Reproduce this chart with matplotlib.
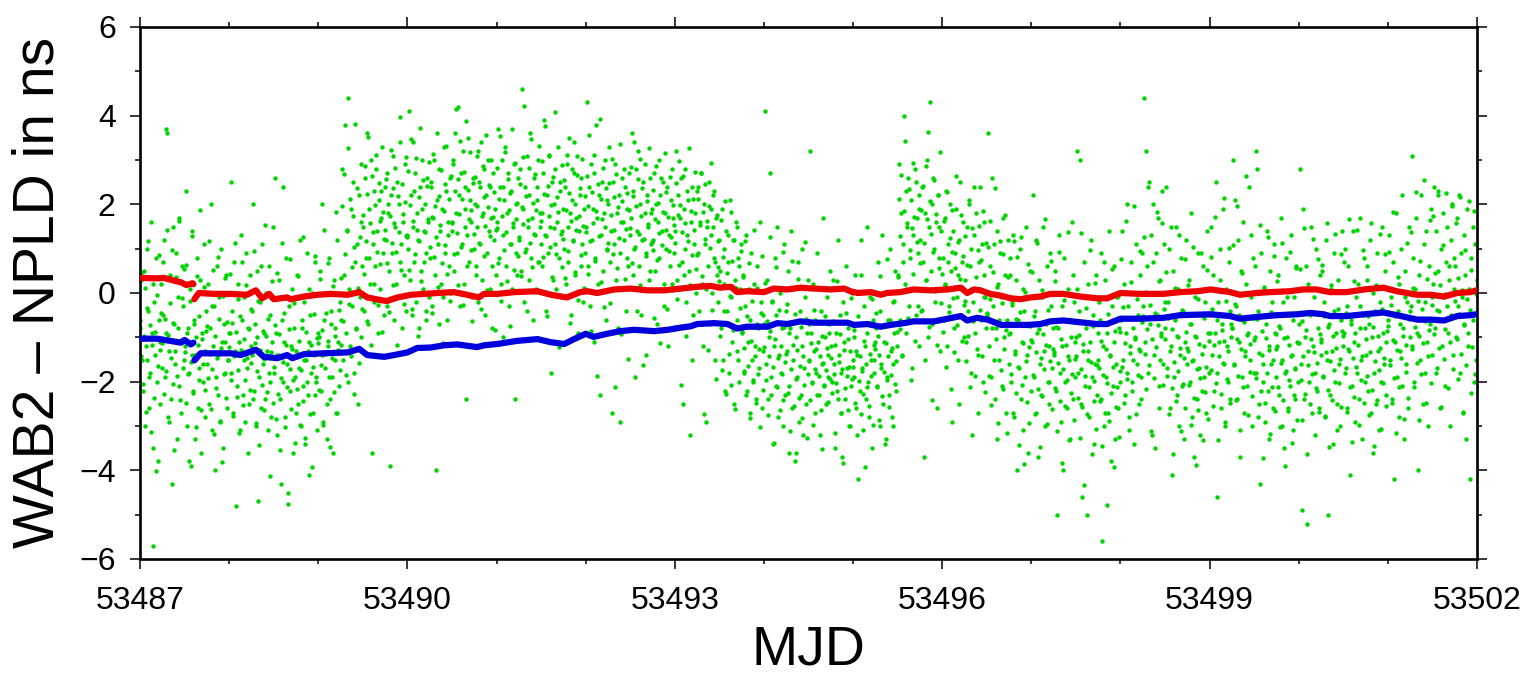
import numpy as np
import matplotlib
matplotlib.use("Agg")
import matplotlib.pyplot as plt
from matplotlib.ticker import MultipleLocator

plt.rcParams['font.family'] = ['Liberation Sans', 'DejaVu Sans']

# ---------------- data ----------------
X_MIN, X_MAX = 53487, 53502
Y_MIN, Y_MAX = -6, 6
x_major = [53487, 53490, 53493, 53496, 53499, 53502]
y_major = [-6, -4, -2, 0, 2, 4, 6]

# Red curve (two segments), MJD and ns
red1_t = [53487.01, 53487.19, 53487.27, 53487.38, 53487.46, 53487.52, 53487.59, 53487.60]
red1_v = [0.34, 0.33, 0.34, 0.28, 0.24, 0.18, 0.22, 0.20]
red2_t = [53487.61, 53487.66, 53487.83, 53488.02, 53488.20, 53488.30, 53488.37, 53488.45,
          53488.50, 53488.65, 53488.69, 53488.84, 53488.99, 53489.14, 53489.33, 53489.46,
          53489.55, 53489.70, 53489.77, 53489.89, 53490.04, 53490.19, 53490.34, 53490.52,
          53490.67, 53490.80, 53490.86, 53491.01, 53491.20, 53491.46, 53491.61, 53491.79,
          53491.94, 53492.02, 53492.13, 53492.32, 53492.50, 53492.69, 53492.88, 53493.07,
          53493.25, 53493.40, 53493.51, 53493.63, 53493.70, 53493.81, 53494.00, 53494.11,
          53494.26, 53494.41, 53494.56, 53494.75, 53494.90, 53494.97, 53495.05, 53495.20,
          53495.31, 53495.38, 53495.53, 53495.68, 53495.87, 53496.06, 53496.21, 53496.28,
          53496.36, 53496.43, 53496.54, 53496.66, 53496.77, 53496.88, 53496.99, 53497.10,
          53497.21, 53497.36, 53497.55, 53497.74, 53497.85, 53498.00, 53498.22, 53498.48,
          53498.67, 53498.86, 53499.01, 53499.23, 53499.34, 53499.53, 53499.68, 53499.90,
          53500.05, 53500.20, 53500.35, 53500.54, 53500.73, 53500.95, 53501.10, 53501.33,
          53501.48, 53501.63, 53501.78, 53501.93, 53501.99]
red2_v = [-0.14, 0.00, -0.02, -0.02, -0.04, 0.06, -0.12, -0.02,
          -0.14, -0.10, -0.14, -0.08, -0.04, -0.02, -0.04, 0.02,
          -0.10, -0.16, -0.18, -0.10, -0.04, -0.02, 0.00, 0.02,
          -0.04, -0.10, -0.02, -0.02, 0.02, 0.04, -0.04, -0.10,
          0.02, 0.04, 0.00, 0.08, 0.10, 0.06, 0.06, 0.10,
          0.14, 0.16, 0.12, 0.14, 0.02, 0.04, 0.02, 0.10,
          0.08, 0.12, 0.10, 0.08, 0.10, 0.04, 0.00, 0.02,
          -0.04, 0.00, 0.02, 0.08, 0.06, 0.08, 0.12, 0.00,
          0.08, 0.06, -0.02, -0.06, -0.12, -0.14, -0.10, -0.08,
          -0.02, -0.02, -0.08, -0.12, -0.12, 0.00, -0.02, -0.02,
          0.02, 0.04, 0.08, 0.02, -0.04, 0.00, 0.02, 0.04,
          0.08, 0.08, 0.02, 0.02, 0.08, 0.12, 0.04, -0.04,
          -0.04, -0.08, 0.00, 0.02, 0.06]

# Blue curve (two segments)
blue1_t = [53487.01, 53487.19, 53487.34, 53487.46, 53487.50, 53487.57, 53487.60]
blue1_v = [-1.03, -1.03, -1.08, -1.12, -1.06, -1.16, -1.12]
blue2_t = [53487.61, 53487.68, 53488.02, 53488.13, 53488.30, 53488.39, 53488.54, 53488.65,
           53488.71, 53488.84, 53489.06, 53489.33, 53489.46, 53489.55, 53489.74, 53489.85,
           53490.00, 53490.11, 53490.26, 53490.41, 53490.56, 53490.78, 53490.86, 53491.01,
           53491.23, 53491.46, 53491.61, 53491.76, 53491.87, 53492.00, 53492.09, 53492.24,
           53492.39, 53492.54, 53492.77, 53492.92, 53493.07, 53493.18, 53493.25, 53493.44,
           53493.59, 53493.70, 53493.81, 53494.04, 53494.15, 53494.26, 53494.41, 53494.56,
           53494.79, 53494.94, 53495.01, 53495.16, 53495.31, 53495.42, 53495.57, 53495.68,
           53495.91, 53496.06, 53496.21, 53496.28, 53496.39, 53496.51, 53496.66, 53496.81,
           53496.96, 53497.10, 53497.21, 53497.36, 53497.55, 53497.74, 53497.85, 53498.00,
           53498.22, 53498.48, 53498.67, 53499.01, 53499.23, 53499.34, 53499.53, 53499.76,
           53499.98, 53500.13, 53500.28, 53500.35, 53500.54, 53500.73, 53500.95, 53501.10,
           53501.33, 53501.48, 53501.63, 53501.78, 53501.93, 53501.99]
blue2_v = [-1.52, -1.36, -1.36, -1.40, -1.28, -1.44, -1.47, -1.40,
           -1.47, -1.38, -1.36, -1.34, -1.26, -1.40, -1.44, -1.40,
           -1.34, -1.24, -1.23, -1.18, -1.16, -1.22, -1.18, -1.15,
           -1.08, -1.04, -1.11, -1.15, -1.04, -0.92, -0.99, -0.92,
           -0.86, -0.83, -0.86, -0.83, -0.78, -0.75, -0.70, -0.68,
           -0.70, -0.80, -0.76, -0.76, -0.68, -0.70, -0.64, -0.67,
           -0.67, -0.67, -0.72, -0.70, -0.76, -0.72, -0.68, -0.64,
           -0.64, -0.58, -0.52, -0.62, -0.56, -0.60, -0.72, -0.72,
           -0.72, -0.70, -0.64, -0.62, -0.66, -0.70, -0.70, -0.58,
           -0.58, -0.56, -0.50, -0.48, -0.52, -0.58, -0.54, -0.50,
           -0.48, -0.45, -0.48, -0.52, -0.52, -0.48, -0.44, -0.50,
           -0.60, -0.60, -0.62, -0.52, -0.50, -0.48]

# Green raw points, set A: per day, 96 samples (15 min), values in tenths of ns
g53487 = [-8, 3, -15, -22, 5, -30, -12, 10, -4, -26, -18, 16, -9, -35, -57, -2, -14, 8, -20, -38, -6, -11, 2, -17,
          -5, 12, -19, 37, -9, 36, -28, -13, 4, -24, -43, 15, -7, -16, 9, -33, -1, -21, 17, -11, -27, 6, -3, -15,
          -12, 23, -30, -8, -18, 1, -39, -14, 14, -22, -6, -33, -10, 8, -26, -17, 3, -36, -9, -20, 11, -13, -28, -4,
          -16, 2, -25, -8, 20, -31, -12, -3, -40, -19, 6, -14, -23, -1, -29, 10, -11, -35, -7, -18, 4, -26, -15, -9]
g53488 = [-9, 25, -18, -4, -27, 7, -13, -48, -21, 2, -11, -31, 13, -6, -23, -15, -1, -29, 9, -17, -8, -25, 4, -12,
          -14, 20, -22, -7, -30, -10, 5, -47, -19, -2, -26, 11, -16, -9, -24, 0, -13, -31, 6, -20, -5, -28, -11, 15,
          -18, 26, -9, -32, -14, 3, -24, -43, -6, 24, -20, -11, -28, 8, -16, -45, -3, -22, -12, 1, -36, -8, -19, -27,
          -13, 4, -25, -17, 12, -30, -8, -21, -2, -34, -15, 9, -23, -11, -41, -5, -18, 0, -27, -14, 7, -20, -31, -9]
g53489 = [-10, 5, -22, -14, 20, -29, -6, -17, 0, -33, -12, 8, -24, -4, -19, -36, 3, -15, -8, -27, 12, -11, -21, -2,
          -6, 28, -15, 4, 38, -9, 14, -20, 44, 1, -12, 19, -3, 25, -18, 7, -8, 11, -25, 22, -1, 16, -10, 6,
          15, -4, 26, 8, 36, -7, 19, 2, 30, -36, 11, 23, -2, 6, 28, 14, -9, 21, 1, 17, 33, 9, -5, 24,
          12, 27, -3, 18, 5, -39, 22, 9, 31, -6, 15, 2, 25, -1, 20, 7, 34, 11, -8, 16, 4, 29, -4, 13]
g53490 = [10, 41, 3, 22, -5, 34, 15, 7, 27, -2, 18, 12, -8, 24, 5, 30, 1, 14, 20, -4, 9, 26, 16, -1,
          8, 25, -3, 17, 30, 4, -40, 21, 11, -7, 28, 14, 2, 19, -1, 33, 9, 23, -6, 13, 6, 26, 0, 16,
          14, 29, 5, 36, 18, 9, 42, 22, -3, 27, 11, 32, 2, 19, 24, -24, 13, 35, 7, 21, 16, -1, 26, 10,
          20, 6, 31, 15, -2, 25, 11, 34, 3, 18, 28, -5, 22, 9, 30, 14, 1, 24, 17, -8, 27, 12, 19, 4]
g53491 = [16, 37, 8, 24, 2, 30, 13, -10, 21, 33, 6, 18, 27, -3, 11, 23, 1, 15, 29, -24, 9, 20, 4, 26,
          12, 28, 5, 46, 19, -2, 24, 10, 31, 15, 3, 22, 36, 8, 17, -6, 26, 13, 1, 21, 30, 7, 18, 11,
          18, 6, 27, 39, 13, -4, 22, 9, 31, 15, -18, 25, 3, 20, 11, 28, 1, 16, 33, 8, 23, -1, 14, 19,
          10, 24, 2, 29, 15, 7, 35, 18, -5, 21, 12, 27, 4, 17, 31, -9, 14, 22, 6, 26, 11, -2, 19, 9]
g53492 = [15, 43, 6, 24, -3, 29, 12, 19, -11, 27, 8, 38, 17, 2, 22, -23, 13, 25, 5, 18, 30, -6, 10, 21,
          20, 33, 7, 14, -27, 25, 11, 29, 3, 18, -8, 22, 9, -29, 16, 26, 1, 12, 24, -4, 19, 6, 27, 13,
          17, 36, 4, 23, 10, -19, 28, 14, 32, 6, 20, -5, 12, 25, 1, 18, 9, -14, 22, 15, 3, 26, 11, 19,
          12, 27, 5, 20, -7, 16, 30, 8, 22, 1, 14, 25, -3, 18, 10, 24, -12, 13, 6, 21, 28, 2, 17, 9]
g53493 = [14, 32, 3, 22, -8, 17, 26, 7, -25, 19, 10, 28, -2, 13, 21, 5, -32, 16, 24, -5, 11, 18, 0, 23,
          9, 24, -4, 16, 27, 2, -12, 20, 11, -29, 15, 6, 25, -7, 13, 19, 0, 22, 8, -15, 17, 4, -2, 12,
          5, -8, 19, -15, 10, 2, -22, 14, -4, 7, -18, 21, -1, -11, 12, -25, 3, 16, -6, -13, 8, -20, 1, 11,
          -9, 4, -18, -3, 13, -22, -11, 1, -27, -6, 9, -15, -20, 2, -12, -24, 6, -8, -17, 16, -2, -26, -13, -5]
g53494 = [-7, 41, -16, 3, -24, -10, 27, -19, -2, -34, -12, 8, -21, -5, 15, -28, -14, 0, -18, -8, -30, 11, -23, -4,
          -13, 5, -21, -36, -8, 14, -26, -15, 1, -38, -10, -19, 7, -29, -4, -23, -12, 10, -32, -17, -1, -25, -9, 3,
          -15, 32, -9, -20, 2, -13, -27, -6, -18, 9, -11, -23, -32, -4, -16, 17, -21, -10, -25, -1, -14, -19, -7, 5,
          -12, -20, 3, -16, -35, -9, -22, 12, -14, -5, -27, -18, -37, -2, -11, -24, 6, -17, -8, -30, -13, -21, 0, -15]
g53495 = [-10, -19, 4, -26, -14, -42, -7, -22, 12, -17, -31, -3, -12, -24, -9, 15, -20, -28, -1, -15, -35, -6, -18, -11,
          -8, -21, 7, -14, -30, -4, -17, 13, -25, -11, 0, -33, -19, -6, -23, 10, -13, -28, -2, -16, -9, 5, -22, -12,
          4, 29, -6, 18, -14, 11, 40, 2, 23, -9, 15, 26, -3, 8, 21, -17, 13, 1, 28, -5, 17, 9, -12, 22,
          12, -4, 24, 7, -37, 18, 3, 30, -10, 15, 43, 5, 20, -7, 26, 10, -2, 16, -26, 22, 8, -13, 14, 1]
g53496 = [8, -6, 17, 2, 23, -12, 11, -3, 20, 5, -29, 14, -8, 9, 19, -1, 4, -15, 12, 25, -5, 7, 16, -10,
          3, -11, 15, -4, 21, 6, -18, 10, -32, -2, 13, -9, 18, 1, -14, 7, 24, -6, 11, -20, 4, 16, -1, -8,
          -5, 36, -12, 6, -19, 26, -3, 11, -24, -8, 14, -33, 2, -15, 9, -1, -21, 17, -10, 4, -27, -6, 12, -16,
          -9, 8, -20, -2, 13, -28, -13, 3, -40, -6, -17, 10, -24, -11, 1, -31, -4, -19, 15, -14, -36, -7, 5, -22]
g53497 = [-11, 22, -19, -4, 12, -27, -9, -37, 3, -16, -23, -1, 15, -13, -30, -7, 6, -20, -12, -25, 9, -3, -17, -8,
          -14, 5, -22, -50, -8, 13, -18, -29, -3, -12, -40, 8, -20, -6, -26, 1, -15, -33, -10, 16, -24, -2, -19, -11,
          -10, 32, -18, -4, 30, -25, -46, -13, 7, -21, -8, -50, -15, 2, -28, -11, 12, -19, -5, -34, -16, 4, -23, -9,
          -17, -6, 9, -24, -56, -12, -30, 3, -19, -9, -27, 14, -14, -38, -3, -21, -11, 6, -33, -16, -1, -26, -8, -20]
g53498 = [-6, 14, -15, 2, -23, -9, 20, -18, -3, -28, -12, 7, -20, 0, -34, -10, 11, -16, -5, -25, 4, -13, -19, 9,
          -3, 44, -11, 32, 6, -18, 25, -7, 13, -32, 0, 20, -14, -35, 9, -5, 17, -21, 3, -9, 23, -16, 11, -2,
          -8, 24, -17, -2, 10, -26, -12, -41, 5, -19, -6, 15, -23, -10, 1, -30, -14, 8, -21, -4, -33, -11, 12, -16,
          -13, 3, -20, -7, 18, -28, -15, -37, -1, -10, -24, 9, -17, -32, -5, -22, 6, -12, -19, -2, -27, 14, -9, -18]
g53499 = [-5, 15, -14, 4, -22, -9, 25, -18, -46, -2, -11, 10, -26, -7, 19, -16, -30, 1, -12, -20, 7, -4, -24, -10,
          -8, 30, -16, 21, -3, -24, 12, -11, -37, 5, -19, -6, 16, -27, -13, 2, -21, -9, 24, -15, -1, -30, 8, -18,
          -10, 32, -18, 28, -4, -25, -43, 9, -14, -20, 1, -29, -7, 14, -22, -12, -33, 5, -16, -2, -26, 11, -9, -19,
          -12, 4, -23, -8, 17, -30, -15, -2, -35, -18, 8, -10, -26, -5, -21, 13, -14, -31, -1, -17, -24, 6, -11, -20]
g53500 = [-7, 28, -16, -49, 19, -24, -10, 6, -52, -13, 2, -20, -5, 15, -27, -12, -1, -18, 10, -22, -8, -26, 4, -14,
          -11, 5, -19, -2, -28, 12, -15, -50, -7, -23, 1, -13, -34, -4, 9, -20, -9, -25, 3, -16, -30, -6, 14, -12,
          -9, 10, -17, -3, -26, 6, -13, -41, -6, -21, 14, -11, -29, -1, -18, 2, -24, -8, 17, -15, -33, -5, 8, -20,
          -14, 3, -22, -7, 12, -27, -10, -36, 0, -18, -4, -25, 9, -13, -31, -2, -20, 15, -9, -16, 5, -23, -11, 1]
g53501 = [-6, 13, -15, -1, -24, 7, -42, -11, 18, -19, -4, -28, 2, -13, 10, -21, -8, -33, 5, -16, -2, -26, 15, -10,
          -3, 31, -12, 8, -20, 1, 17, -9, -40, 4, -15, 22, -6, -25, 11, -2, -18, 14, -11, -30, 6, -7, 19, -14,
          2, 24, -8, 14, -17, 5, 22, -4, -26, 10, -12, 18, -1, -21, 7, 15, -9, 3, -30, 12, -5, 20, -14, 8,
          6, -10, 17, -3, 22, -18, 9, -1, -27, 13, -7, 4, -33, 19, -12, 1, -42, 8, -5, 15, -20, 11, -15, 3]

# Green raw points, set B: interleaved samples, values in hundredths of ns
h53487 = [-62, -143, 48, -205, -97, 12, -268, -151, -33, 117, -189, -72, -314, -118, 21, -236, -87, -402, -5, -164, 86, -128, -251, -44,
          -113, 71, -227, -58, -176, 142, -94, -291, -23, -147, 98, -205, -68, -355, -131, 37, -187, -79, 163, -242, -106, -12, -169, 54,
          -132, -247, 64, -91, -183, -378, -17, -155, 128, -226, -71, -139, -302, 39, -118, -196, -52, 187, -264, -103, -161, 13, -219, -85,
          -74, -192, 117, -138, -262, -29, -171, 52, -317, -97, -214, -146, 81, -58, -289, -123, -381, -7, -183, -111, 33, -237, -66, -152]
h53488 = [-121, 43, -196, -67, -278, -142, 112, -88, -234, -13, -173, -316, -53, -129, 71, -252, -104, -197, 18, -146, -361, -82, -218, -37,
          -157, -41, -239, 94, -112, -293, -176, -19, -343, -128, 61, -207, -86, -265, -149, 153, -98, -224, -59, -181, -412, -133, 27, -248,
          -168, -72, -284, 46, -139, -227, -93, -355, -191, 113, -156, -44, -303, -117, -212, -476, -81, -172, 76, -261, -127, -197, -23, -338,
          -143, -216, 38, -109, -297, -174, -61, -243, 127, -152, -328, -89, -201, -131, 9, -274, -117, -392, -166, -47, -231, 84, -189, -102]
h53489 = [-113, -218, 31, -162, -84, -297, 142, -137, -46, -251, -109, 67, -189, -348, -71, -146, 15, -223, -96, 183, -271, -128, -38, -174,
          34, -117, 196, -63, 268, 87, -186, 142, 327, -24, 213, -142, 58, 173, -228, 104, 382, -81, 236, 11, -158, 127, 291, -37,
          176, 42, 287, 118, -63, 223, 352, 79, 158, -118, 264, 137, 21, 198, 311, 93, -27, 247, 163, 66, 229, -89, 182, 121,
          143, 258, 67, 201, -42, 174, 323, 112, 236, 18, 157, 283, 92, -117, 219, 137, 398, 53, 246, 178, -24, 206, 129, 307]
h53490 = [127, 276, 53, 198, 347, -37, 162, 231, 89, 304, 143, -98, 217, 118, 373, 26, 189, 254, 71, 138, -61, 242, 167, 296,
          104, 238, -46, 171, 313, 82, 196, 127, 362, 14, 219, 153, 277, 68, -112, 186, 246, 108, 331, 42, 161, 213, -17, 264,
          158, 301, 87, 229, 416, 136, 19, 257, 178, 343, 104, 211, -28, 274, 149, 389, 62, 233, 166, 318, 97, 187, -63, 248,
          133, 262, 41, 197, 321, 112, 238, -37, 174, 287, 83, 216, 152, 356, 7, 193, 244, 128, 301, 61, 171, 227, -84, 143]
h53491 = [146, 283, 67, 212, 354, -18, 173, 239, 98, 319, 137, 26, 257, 188, -74, 226, 111, 371, 158, 52, 294, 167, 203, 84,
          127, 246, 38, 193, 307, 156, 421, 92, 218, -41, 164, 281, 113, 347, 59, 203, 132, 268, 2, 187, 239, 71, 331, 148,
          162, 297, 81, 224, 376, 128, -53, 241, 173, 311, 103, 199, 36, 262, 147, 408, 87, 216, 183, -121, 251, 134, 289, 58,
          121, 256, 33, 187, 312, 94, 226, -68, 163, 279, 118, 341, 47, 201, 142, 267, -16, 174, 236, 86, 303, 151, 12, 218]
h53492 = [138, 264, 42, 197, 356, 117, -86, 228, 159, 311, 73, 184, -187, 246, 128, 392, 24, 213, 166, 281, -31, 149, 237, 96,
          113, 249, -23, 176, 302, 88, 217, 141, -213, 268, 57, 193, 124, 337, -92, 208, 161, 279, 31, 145, 226, 79, -148, 187,
          147, 284, 68, 219, 341, 103, 196, -41, 258, 132, 303, 17, 174, 236, -162, 121, 292, 83, 207, 155, 328, 49, 181, 114,
          98, 233, -57, 166, 287, 74, 204, 136, -113, 259, 108, 182, 21, 316, 143, 227, -36, 171, 94, 262, 127, 6, 198, 153]
h53493 = [112, 247, -14, 176, 298, 63, 198, -208, 137, 263, 41, 157, -97, 231, 118, 327, 19, 184, 86, -152, 212, 143, 272, 54,
          86, 213, -67, 154, 271, 38, 182, -274, 121, 246, 9, 163, -128, 197, 102, 293, -38, 148, 231, 71, -193, 176, 117, 58,
          27, -96, 164, -173, 82, -41, 207, -228, 46, 131, -137, -6, 182, -207, 73, -84, 119, -261, 11, 148, -152, 62, -33, 94,
          -87, 37, -176, -124, 118, -231, -53, -164, 67, -281, -108, -19, -196, 143, -142, -247, -71, 12, -183, -126, -302, -44, 84, -218]
h53494 = [-121, 23, -197, -64, -276, -143, 127, -86, -231, -17, -168, -338, -103, 58, -212, -147, -39, -263, -119, -183, 92, -242, -76, -156,
          -138, -24, -226, -91, -312, -171, 73, -117, -254, -47, -193, -362, -128, 31, -237, -164, -76, -282, -141, -208, 116, -59, -327, -182,
          -153, -71, -242, -112, -203, -298, -38, -171, -126, -229, 8, -187, -142, -264, -96, -352, -158, -207, -53, -174, -123, -246, -91, -193,
          -147, -226, -63, -182, -316, -117, -203, 27, -238, -156, -92, -271, -171, -384, -128, -214, -46, -187, -263, -104, -167, -301, -12, -193]
h53495 = [-168, -83, -247, -131, -321, -52, -198, -143, -274, 41, -176, -227, -109, -392, -161, -213, -68, -256, -137, -187, -14, -298, -152, -117,
          -127, -46, -213, -98, -287, 38, -161, -232, -74, -178, -341, -113, -197, 76, -142, -258, -61, -184, -123, -301, -17, -206, -154, -88,
          37, 213, -82, 128, 267, -143, 71, 186, 342, 8, 159, -57, 234, 96, -196, 147, 293, 43, 172, -108, 251, 116, -29, 189,
          67, 187, -38, 241, 112, -152, 286, 29, 168, 363, -76, 207, 133, -241, 93, 256, 4, 178, -117, 221, 148, 57, 318, -23]
h53496 = [43, -87, 162, 18, -168, 227, 71, -43, 124, -216, 93, 188, -12, -134, 57, 263, -73, 116, -251, 31, 176, -108, 84, -26,
          -17, 128, -153, 63, -96, 201, -211, 9, 147, -64, 238, -187, 37, -126, 96, -271, 152, -38, 74, -143, 186, -8, -223, 112,
          -46, 103, -187, -13, 162, -252, -78, 48, -151, 237, -104, 13, -293, -61, 118, -173, -22, 87, -216, -127, 176, -83, -316, 37,
          -92, 41, -183, -26, -271, 117, -137, -58, -226, 82, -167, -342, -43, 126, -208, -112, -386, 3, -154, -246, 66, -121, -293, -74]
h53497 = [-107, 48, -186, -53, -274, -132, 112, -216, -81, -347, -146, 7, -233, -92, -171, 167, -118, -296, -38, -201, -154, 73, -262, -126,
          -133, 27, -214, -76, -311, -158, 92, -243, -104, -383, -172, -16, -256, -117, -197, 138, -141, -331, -61, -226, -183, 41, -287, -149,
          -142, 8, -236, -94, -328, -171, 136, -258, -116, -432, -187, -33, -272, -131, -211, 97, -156, -363, -74, -243, -198, 22, -307, -163,
          -152, -21, -243, -108, -346, -186, 71, -271, -127, -478, -203, -47, -289, -143, -226, 54, -168, -392, -86, -257, -212, -6, -324, -177]
h53498 = [-87, 76, -168, -31, -247, -112, 163, -194, -58, -308, -136, 24, -221, -79, -152, 197, -103, -273, -14, -186, -127, 94, -239, -66,
          -52, 126, -138, 3, -217, -81, 238, -163, -27, -312, -104, 71, -191, -46, -121, 183, -73, -259, 28, -152, -96, 157, -208, -37,
          -103, 47, -187, -56, -272, -131, 148, -214, -82, -363, -156, 11, -243, -97, -176, 131, -123, -311, -38, -205, -147, 76, -259, -88,
          -124, 18, -208, -71, -298, -153, 104, -236, -98, -387, -172, -14, -263, -116, -191, 91, -138, -332, -57, -224, -167, 53, -284, -109]
h53499 = [-91, 81, -173, -37, -256, -118, 171, -203, -62, -331, -142, 29, -227, -84, -158, 214, -109, -291, -18, -193, -131, 102, -247, -71,
          -78, 108, -162, -24, -241, -103, 197, -187, -49, -308, -127, 46, -212, -66, -143, 263, -94, -276, -3, -178, -116, 131, -233, -57,
          -107, 62, -191, -58, -279, -136, 153, -222, -86, -372, -161, 14, -248, -102, -181, 126, -128, -317, -42, -211, -152, 83, -266, -93,
          -126, 27, -211, -74, -302, -157, 112, -241, -101, -391, -177, -8, -267, -118, -196, 93, -143, -338, -61, -229, -171, 56, -286, -112]
h53500 = [-112, 54, -196, -63, -286, -141, 147, -228, -84, -363, -163, 8, -251, -104, -183, 122, -132, -321, -44, -214, -157, 76, -268, -93,
          -104, 63, -188, -52, -277, -133, 158, -219, -76, -348, -154, 19, -242, -97, -174, 133, -124, -309, -36, -203, -148, 88, -257, -86,
          -96, 71, -181, -46, -268, -126, 166, -211, -69, -336, -147, 26, -234, -91, -167, 141, -117, -298, -29, -196, -141, 97, -249, -79,
          -103, 62, -187, -53, -276, -132, 157, -218, -77, -346, -153, 17, -241, -98, -174, 132, -124, -307, -37, -202, -147, 87, -256, -85]
h53501 = [-74, 93, -162, -28, -248, -107, 183, -191, -53, -316, -129, 37, -213, -71, -146, 221, -97, -284, -8, -178, -118, 112, -236, -59,
          -41, 137, -127, 12, -213, -76, 228, -158, -19, -287, -96, 73, -182, -37, -113, 256, -63, -247, 31, -143, -84, 164, -204, -26,
          -8, 173, -93, 46, -181, -38, 231, -124, 17, -257, -61, 108, -149, -3, -82, 226, -29, -214, 62, -111, -51, 197, -172, 9,
          -19, 158, -104, 34, -193, -47, 217, -137, 6, -268, -72, 96, -163, -14, -91, 208, -38, -226, 51, -122, -62, 186, -183, -3]

green_a = {53487: g53487, 53488: g53488, 53489: g53489, 53490: g53490, 53491: g53491,
           53492: g53492, 53493: g53493, 53494: g53494, 53495: g53495, 53496: g53496,
           53497: g53497, 53498: g53498, 53499: g53499, 53500: g53500, 53501: g53501}
green_b = {53487: h53487, 53488: h53488, 53489: h53489, 53490: h53490, 53491: h53491,
           53492: h53492, 53493: h53493, 53494: h53494, 53495: h53495, 53496: h53496,
           53497: h53497, 53498: h53498, 53499: h53499, 53500: h53500, 53501: h53501}

# ---------------- figure ----------------
fig = plt.figure(figsize=(15.28, 6.76), dpi=100)
ax = fig.add_axes([140 / 1528, 1 - 559 / 676, (1477 - 140) / 1528, (559 - 27) / 676])

gx, gy = [], []
for day, vals in green_a.items():
    n = len(vals)
    gx.extend(day + (np.arange(n) + 0.5) / n)
    gy.extend(np.array(vals) / 10.0)
for day, vals in green_b.items():
    n = len(vals)
    gx.extend(day + (np.arange(n) + 0.02) / n)
    gy.extend(np.array(vals) / 100.0)
ax.plot(gx, gy, linestyle='none', marker='o', markersize=3.2, color='#00d400',
        markeredgewidth=0, zorder=2)

line_kw = dict(linewidth=4.5, solid_joinstyle='round', solid_capstyle='round', zorder=3)
ax.plot(red1_t, red1_v, color='#ee0000', **line_kw)
ax.plot(red2_t, red2_v, color='#ee0000', **line_kw)
ax.plot(blue1_t, blue1_v, color='#0000dd', **line_kw)
ax.plot(blue2_t, blue2_v, color='#0000dd', **line_kw)

ax.set_xlim(X_MIN, X_MAX)
ax.set_ylim(Y_MIN, Y_MAX)
ax.set_xticks(x_major)
ax.set_xticklabels([str(v) for v in x_major])
ax.set_yticks(y_major)
ax.xaxis.set_minor_locator(MultipleLocator(1))
ax.yaxis.set_minor_locator(MultipleLocator(1))

ax.tick_params(which='both', direction='out', top=True, right=True,
               labeltop=False, labelright=False, width=1.1, color='black')
ax.tick_params(which='major', length=7.5, labelsize=23)
ax.tick_params(which='minor', length=3.8)
ax.tick_params(axis='x', which='major', pad=12)
ax.tick_params(axis='y', which='major', pad=10)

for sp in ax.spines.values():
    sp.set_linewidth(1.9)

ax.set_xlabel('MJD', fontsize=40, labelpad=6)
ax.set_ylabel('WAB2 \u2013 NPLD in ns', fontsize=41, labelpad=10)

fig.savefig('out.png', dpi=100)
